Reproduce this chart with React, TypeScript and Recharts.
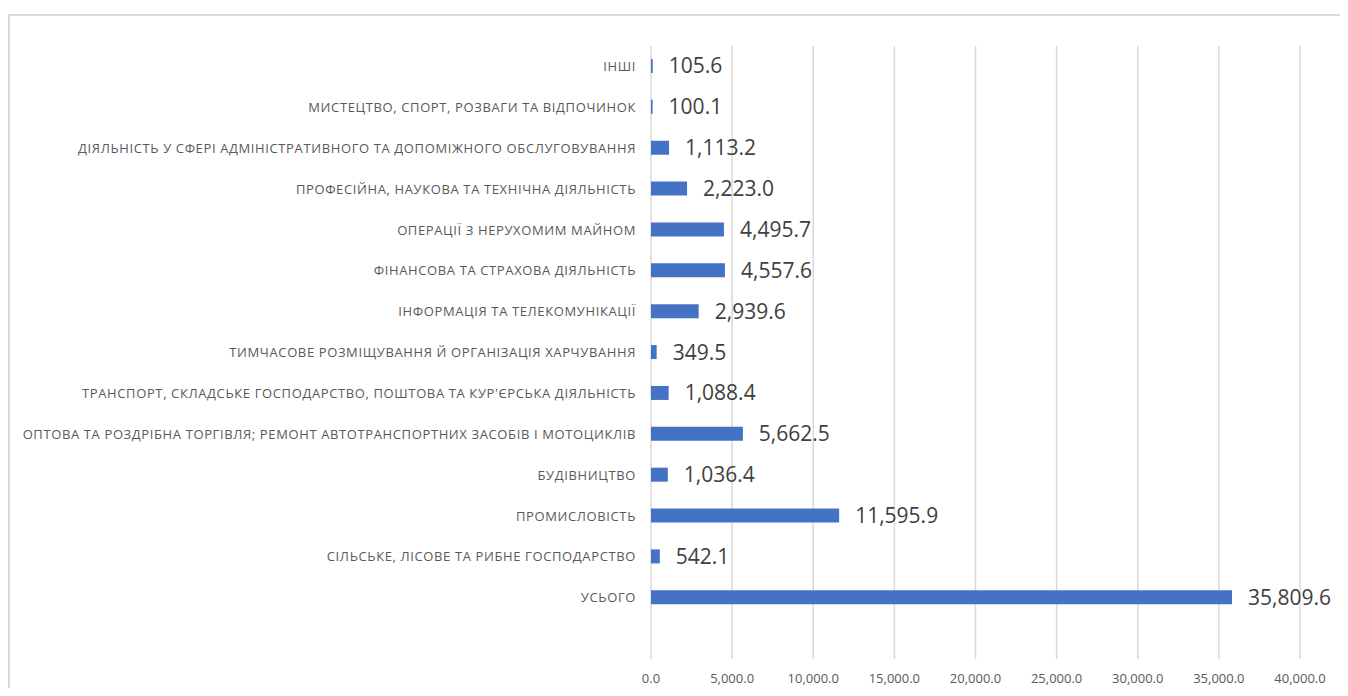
import React from 'react';
import { BarChart, Bar, XAxis, YAxis, CartesianGrid, LabelList } from 'recharts';

const categories = [
  'ІНШІ',
  'МИСТЕЦТВО, СПОРТ, РОЗВАГИ ТА ВІДПОЧИНОК',
  'ДІЯЛЬНІСТЬ У СФЕРІ АДМІНІСТРАТИВНОГО ТА ДОПОМІЖНОГО ОБСЛУГОВУВАННЯ',
  'ПРОФЕСІЙНА, НАУКОВА ТА ТЕХНІЧНА ДІЯЛЬНІСТЬ',
  'ОПЕРАЦІЇ З НЕРУХОМИМ МАЙНОМ',
  'ФІНАНСОВА ТА СТРАХОВА ДІЯЛЬНІСТЬ',
  'ІНФОРМАЦІЯ ТА ТЕЛЕКОМУНІКАЦІЇ',
  'ТИМЧАСОВЕ РОЗМІЩУВАННЯ Й ОРГАНІЗАЦІЯ ХАРЧУВАННЯ',
  "ТРАНСПОРТ, СКЛАДСЬКЕ ГОСПОДАРСТВО, ПОШТОВА ТА КУР'ЄРСЬКА ДІЯЛЬНІСТЬ",
  'ОПТОВА ТА РОЗДРІБНА ТОРГІВЛЯ; РЕМОНТ АВТОТРАНСПОРТНИХ ЗАСОБІВ І МОТОЦИКЛІВ',
  'БУДІВНИЦТВО',
  'ПРОМИСЛОВІСТЬ',
  'СІЛЬСЬКЕ, ЛІСОВЕ ТА РИБНЕ ГОСПОДАРСТВО',
  'УСЬОГО',
  '',
];

const values: (number | null)[] = [
  105.6, 100.1, 1113.2, 2223.0, 4495.7, 4557.6, 2939.6, 349.5, 1088.4, 5662.5, 1036.4, 11595.9, 542.1, 35809.6,
  null,
];

const xTicks = [0, 5000, 10000, 15000, 20000, 25000, 30000, 35000, 40000];

const data = categories.map((name, i) => ({ name, value: values[i] }));

const fmt = (v: number) =>
  v.toLocaleString('en-US', { minimumFractionDigits: 1, maximumFractionDigits: 1 });

const FONT = '"Open Sans", sans-serif';

// single-line category label, right-aligned to the axis
function CategoryTick(props: any) {
  const { x, y, payload } = props;
  return (
    <text
      x={x}
      y={y}
      dy="0.355em"
      textAnchor="end"
      fill="#595959"
      fontSize={13}
      letterSpacing={0.62}
      fontFamily={FONT}
    >
      {payload.value}
    </text>
  );
}

export default function App() {
  return (
    <div style={{ position: 'relative', width: 1340, height: 680 }}>
      <div
        style={{
          position: 'absolute',
          left: 0,
          top: 6,
          width: 1340,
          height: 674,
          borderTop: '2px solid #d9d9d9',
          borderLeft: '2px solid #d9d9d9',
          boxSizing: 'border-box',
        }}
      />
      <div style={{ position: 'absolute', left: 0, top: 0 }}>
        <BarChart
          width={1340}
          height={680}
          data={data}
          layout="vertical"
          margin={{ top: 38, right: 48, bottom: 0, left: 0 }}
          barCategoryGap={0}
        >
          <CartesianGrid horizontal={false} stroke="#d9d9d9" strokeWidth={1.5} />
          <XAxis
            type="number"
            domain={[0, 40000]}
            ticks={xTicks}
            tickFormatter={fmt}
            axisLine={false}
            tickLine={false}
            tickSize={0}
            tickMargin={15}
            height={29}
            interval={0}
            tick={{ fill: '#595959', fontSize: 13, fontFamily: FONT }}
          />
          <YAxis
            type="category"
            dataKey="name"
            width={643}
            axisLine={false}
            tickLine={false}
            tickSize={0}
            tickMargin={15}
            interval={0}
            tick={<CategoryTick />}
          />
          <Bar dataKey="value" fill="#4472C4" barSize={14} isAnimationActive={false}>
            <LabelList
              dataKey="value"
              position="right"
              offset={16}
              formatter={(v: any) => (v == null ? '' : fmt(Number(v)))}
              style={{ fill: '#404040', fontSize: 21, fontFamily: FONT }}
            />
          </Bar>
        </BarChart>
      </div>
    </div>
  );
}
